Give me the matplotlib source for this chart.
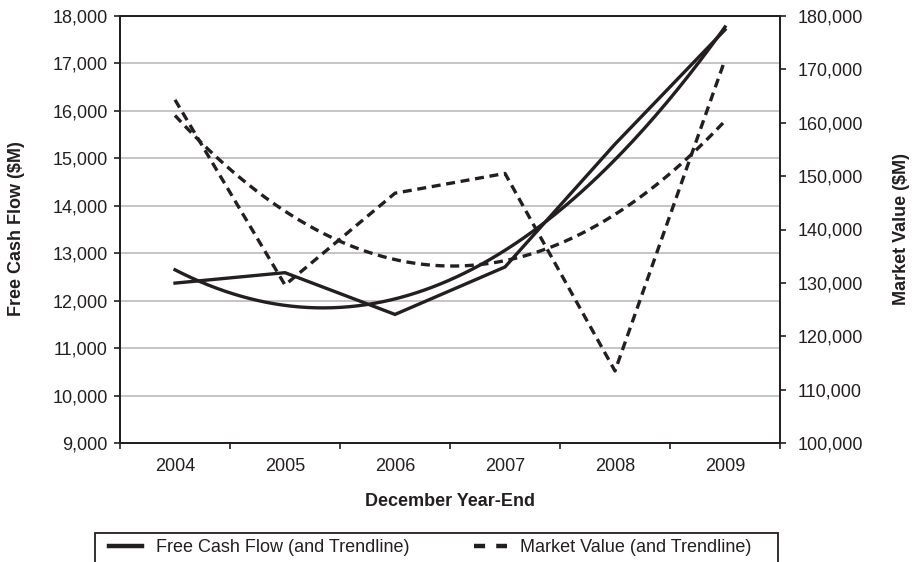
import numpy as np
import matplotlib
matplotlib.use('Agg')
import matplotlib.pyplot as plt
from matplotlib.patches import Rectangle
from matplotlib.lines import Line2D

years = ['2004', '2005', '2006', '2007', '2008', '2009']
free_cash_flow = [12370, 12590, 11710, 12710, 15300, 17710]
market_value = [164300, 129600, 146800, 150500, 113500, 171800]

INK = '#231f20'
W, H = 918, 562


def main():
    plt.rcParams['font.family'] = ['Liberation Sans', 'DejaVu Sans']
    plt.rcParams['font.size'] = 13

    fig = plt.figure(figsize=(W / 100, H / 100), dpi=100)
    ax = fig.add_axes([120 / W, 1 - 443 / H, 660 / W, 427 / H])
    ax2 = ax.twinx()

    x = np.arange(len(years))
    xs = np.linspace(0, len(years) - 1, 200)

    # data lines plus 2nd order trendlines (as Excel does)
    fcf_fit = np.polyval(np.polyfit(x, free_cash_flow, 2), xs)
    mv_fit = np.polyval(np.polyfit(x, market_value, 2), xs)

    dash = (0, (2.7, 1.7))
    ax.plot(x, free_cash_flow, color=INK, lw=2.4, solid_joinstyle='miter')
    ax.plot(xs, fcf_fit, color=INK, lw=2.4)
    ax2.plot(x, market_value, color=INK, lw=2.4, ls=dash)
    ax2.plot(xs, mv_fit, color=INK, lw=2.4, ls=dash)

    ax.set_xlim(-0.5, len(years) - 0.5)
    ax.set_ylim(9000, 18000)
    ax.set_yticks(range(9000, 18001, 1000))
    ax.set_yticklabels([f'{v:,}' for v in range(9000, 18001, 1000)])
    ax2.set_ylim(100000, 180000)
    ax2.set_yticks(range(100000, 180001, 10000))
    ax2.set_yticklabels([f'{v:,}' for v in range(100000, 180001, 10000)])

    ax.set_xticks(np.arange(-0.5, len(years), 1.0))
    ax.set_xticklabels([])
    ax.set_xticks(x, minor=True)
    ax.set_xticklabels(years, minor=True)
    ax.tick_params(axis='x', which='minor', length=0, pad=11, colors=INK)
    ax.tick_params(axis='x', which='major', length=4, width=1.2, color=INK)
    ax.tick_params(axis='y', length=4, width=1.2, pad=5, color=INK, labelcolor=INK)
    ax2.tick_params(axis='y', length=4, width=1.2, pad=9, color=INK, labelcolor=INK)

    ax.grid(axis='y', color='#b5b5b5', lw=1.1)
    ax.set_axisbelow(True)
    for a in (ax, ax2):
        for s in a.spines.values():
            s.set_color(INK)
            s.set_linewidth(1.3)

    fig.text(17 / W, 1 - 229 / H, 'Free Cash Flow ($M)', rotation=90, ha='center',
             va='center', fontweight='bold', color=INK)
    fig.text(902 / W, 1 - 229 / H, 'Market Value ($M)', rotation=90, ha='center',
             va='center', fontweight='bold', color=INK)
    fig.text(450 / W, 1 - 502 / H, 'December Year-End', ha='center', va='center',
             fontweight='bold', color=INK)

    # legend box runs off the bottom of the image
    fig.patches.append(Rectangle((95 / W, -0.05), (778 - 95) / W, 0.05 + 1 - 533 / H,
                                 transform=fig.transFigure, fill=False,
                                 edgecolor=INK, lw=1.3))
    handles = [Line2D([], [], color=INK, lw=3.2),
               Line2D([], [], color=INK, lw=3.2, ls=(0, (2.5, 2.5)))]
    fig.legend(handles, ['Free Cash Flow (and Trendline)', 'Market Value (and Trendline)'],
               loc='center left', bbox_to_anchor=(109 / W, 1 - 548 / H), ncol=2,
               frameon=False, borderpad=0, borderaxespad=0, handlelength=1.85,
               handletextpad=0.75, columnspacing=3.55, labelcolor=INK)

    fig.savefig('out.png', dpi=100)


if __name__ == '__main__':
    main()
